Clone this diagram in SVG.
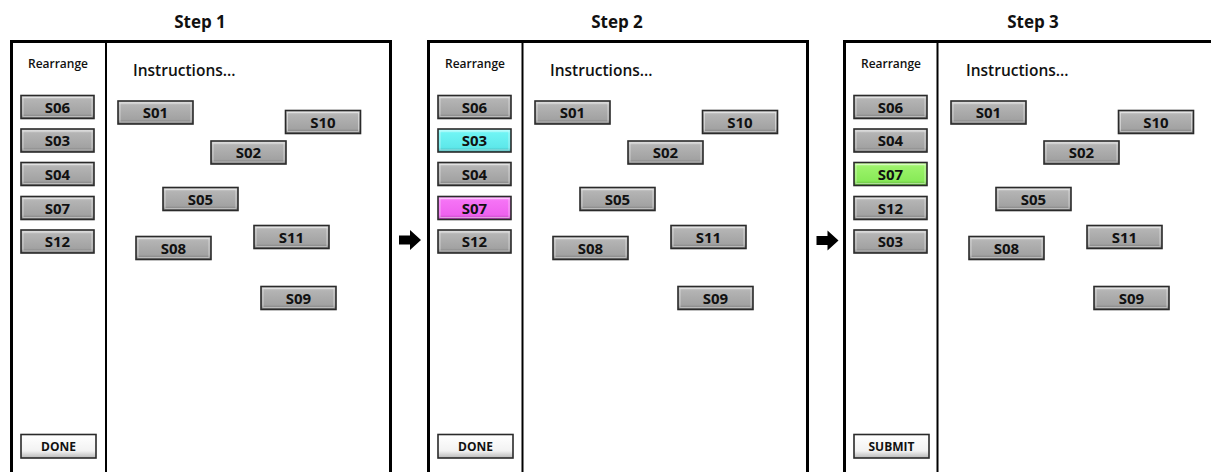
<svg xmlns="http://www.w3.org/2000/svg" width="1211" height="472" viewBox="0 0 1211 472">
  <style>
    text { font-family: "Open Sans", "Liberation Sans", sans-serif; fill: #111; text-anchor: middle; }
    .step { font-size: 17px; font-weight: 700; }
    .hdr { font-size: 12px; font-weight: 600; }
    .ins { font-size: 15.5px; font-weight: 600; text-anchor: start; }
    .lbl { font-size: 15px; font-weight: 700; }
    .small { font-size: 12px; font-weight: 700; }
    .frame { fill: none; stroke: #000; stroke-width: 3; }
    .div { stroke: #000; stroke-width: 2; }
    .btn { stroke: #2a2a2a; stroke-width: 1.6; }
    .bevel { fill: none; stroke: #fff; stroke-opacity: 0.45; stroke-width: 1; }
    .gray { fill: url(#gGray); }
    .cyan { fill: url(#gCyan); }
    .mag { fill: url(#gMag); }
    .grn { fill: url(#gGrn); }
    .wht { fill: url(#gWht); }
  </style>
  <defs>
    <linearGradient id="gGray" x1="0" y1="0" x2="0" y2="1">
      <stop offset="0" stop-color="#dcdcdc"/>
      <stop offset="0.18" stop-color="#b4b4b4"/>
      <stop offset="0.8" stop-color="#a2a2a2"/>
      <stop offset="1" stop-color="#6e6e6e"/>
    </linearGradient>
    <linearGradient id="gCyan" x1="0" y1="0" x2="0" y2="1">
      <stop offset="0" stop-color="#b8ffff"/>
      <stop offset="0.18" stop-color="#6ff4f4"/>
      <stop offset="0.8" stop-color="#5ee8ea"/>
      <stop offset="1" stop-color="#3aa8aa"/>
    </linearGradient>
    <linearGradient id="gMag" x1="0" y1="0" x2="0" y2="1">
      <stop offset="0" stop-color="#ffb8ff"/>
      <stop offset="0.18" stop-color="#f573f5"/>
      <stop offset="0.8" stop-color="#ee62ee"/>
      <stop offset="1" stop-color="#b040b0"/>
    </linearGradient>
    <linearGradient id="gGrn" x1="0" y1="0" x2="0" y2="1">
      <stop offset="0" stop-color="#d4ffb0"/>
      <stop offset="0.18" stop-color="#9cf36a"/>
      <stop offset="0.8" stop-color="#88ea58"/>
      <stop offset="1" stop-color="#5aa838"/>
    </linearGradient>
    <linearGradient id="gWht" x1="0" y1="0" x2="0" y2="1">
      <stop offset="0" stop-color="#ffffff"/>
      <stop offset="0.7" stop-color="#f2f2f2"/>
      <stop offset="1" stop-color="#b8b8b8"/>
    </linearGradient>
    <path id="arrow" d="M0,-4.5 H11 V-10 L22,0 L11,10 V4.5 H0 Z" fill="#000"/>
  </defs>

  <rect width="1211" height="472" fill="#fff"/>

  <!-- ===== Step 1 ===== -->
  <g id="step1">
    <text class="step" x="200" y="28">Step 1</text>
    <path class="frame" d="M11.5,475 V41.5 H390.5 V475"/>
    <line class="div" x1="106" y1="41" x2="106" y2="475"/>
    <text class="hdr" x="58" y="68">Rearrange</text>
    <text class="ins" x="133" y="76">Instructions...</text>
    <g id="s1-list-s06"><rect class="btn gray" x="21" y="95.5" width="73" height="23"/><rect class="bevel" x="23" y="97.5" width="69" height="19"/><text class="lbl" x="57.5" y="112.5">S06</text></g>
    <g id="s1-list-s03"><rect class="btn gray" x="21" y="129" width="73" height="23"/><rect class="bevel" x="23" y="131" width="69" height="19"/><text class="lbl" x="57.5" y="146">S03</text></g>
    <g id="s1-list-s04"><rect class="btn gray" x="21" y="162.5" width="73" height="23"/><rect class="bevel" x="23" y="164.5" width="69" height="19"/><text class="lbl" x="57.5" y="179.5">S04</text></g>
    <g id="s1-list-s07"><rect class="btn gray" x="21" y="196.5" width="73" height="23"/><rect class="bevel" x="23" y="198.5" width="69" height="19"/><text class="lbl" x="57.5" y="213.5">S07</text></g>
    <g id="s1-list-s12"><rect class="btn gray" x="21" y="230" width="73" height="23"/><rect class="bevel" x="23" y="232" width="69" height="19"/><text class="lbl" x="57.5" y="247">S12</text></g>
    <g id="s1-done"><rect class="btn wht" x="21" y="434.5" width="75" height="23.5"/><text class="small" x="58.5" y="451">DONE</text></g>
    <g id="s1-s01"><rect class="btn gray" x="118" y="101" width="75" height="23"/><rect class="bevel" x="120" y="103" width="71" height="19"/><text class="lbl" x="155.5" y="118">S01</text></g>
    <g id="s1-s10"><rect class="btn gray" x="285.5" y="110.5" width="75" height="23"/><rect class="bevel" x="287.5" y="112.5" width="71" height="19"/><text class="lbl" x="323" y="127.5">S10</text></g>
    <g id="s1-s02"><rect class="btn gray" x="211" y="141" width="75" height="23"/><rect class="bevel" x="213" y="143" width="71" height="19"/><text class="lbl" x="248.5" y="158">S02</text></g>
    <g id="s1-s05"><rect class="btn gray" x="163" y="187.5" width="75" height="23"/><rect class="bevel" x="165" y="189.5" width="71" height="19"/><text class="lbl" x="200.5" y="204.5">S05</text></g>
    <g id="s1-s08"><rect class="btn gray" x="136" y="236.5" width="75" height="23"/><rect class="bevel" x="138" y="238.5" width="71" height="19"/><text class="lbl" x="173.5" y="253.5">S08</text></g>
    <g id="s1-s11"><rect class="btn gray" x="254" y="225.5" width="75" height="23"/><rect class="bevel" x="256" y="227.5" width="71" height="19"/><text class="lbl" x="291.5" y="242.5">S11</text></g>
    <g id="s1-s09"><rect class="btn gray" x="261" y="286.5" width="75" height="23"/><rect class="bevel" x="263" y="288.5" width="71" height="19"/><text class="lbl" x="298.5" y="303.5">S09</text></g>
  </g>

  <!-- ===== Step 2 ===== -->
  <g id="step2" transform="translate(417,0)">
    <text class="step" x="200" y="28">Step 2</text>
    <path class="frame" d="M11.5,475 V41.5 H390.5 V475"/>
    <line class="div" x1="105.5" y1="41" x2="105.5" y2="475"/>
    <text class="hdr" x="58" y="68">Rearrange</text>
    <text class="ins" x="133" y="76">Instructions...</text>
    <g id="s2-list-s06"><rect class="btn gray" x="21" y="95.5" width="73" height="23"/><rect class="bevel" x="23" y="97.5" width="69" height="19"/><text class="lbl" x="57.5" y="112.5">S06</text></g>
    <g id="s2-list-s03"><rect class="btn cyan" x="21" y="129" width="73" height="23"/><rect class="bevel" x="23" y="131" width="69" height="19"/><text class="lbl" x="57.5" y="146">S03</text></g>
    <g id="s2-list-s04"><rect class="btn gray" x="21" y="162.5" width="73" height="23"/><rect class="bevel" x="23" y="164.5" width="69" height="19"/><text class="lbl" x="57.5" y="179.5">S04</text></g>
    <g id="s2-list-s07"><rect class="btn mag" x="21" y="196.5" width="73" height="23"/><rect class="bevel" x="23" y="198.5" width="69" height="19"/><text class="lbl" x="57.5" y="213.5">S07</text></g>
    <g id="s2-list-s12"><rect class="btn gray" x="21" y="230" width="73" height="23"/><rect class="bevel" x="23" y="232" width="69" height="19"/><text class="lbl" x="57.5" y="247">S12</text></g>
    <g id="s2-done"><rect class="btn wht" x="21" y="434.5" width="75" height="23.5"/><text class="small" x="58.5" y="451">DONE</text></g>
    <g id="s2-s01"><rect class="btn gray" x="118" y="101" width="75" height="23"/><rect class="bevel" x="120" y="103" width="71" height="19"/><text class="lbl" x="155.5" y="118">S01</text></g>
    <g id="s2-s10"><rect class="btn gray" x="285.5" y="110.5" width="75" height="23"/><rect class="bevel" x="287.5" y="112.5" width="71" height="19"/><text class="lbl" x="323" y="127.5">S10</text></g>
    <g id="s2-s02"><rect class="btn gray" x="211" y="141" width="75" height="23"/><rect class="bevel" x="213" y="143" width="71" height="19"/><text class="lbl" x="248.5" y="158">S02</text></g>
    <g id="s2-s05"><rect class="btn gray" x="163" y="187.5" width="75" height="23"/><rect class="bevel" x="165" y="189.5" width="71" height="19"/><text class="lbl" x="200.5" y="204.5">S05</text></g>
    <g id="s2-s08"><rect class="btn gray" x="136" y="236.5" width="75" height="23"/><rect class="bevel" x="138" y="238.5" width="71" height="19"/><text class="lbl" x="173.5" y="253.5">S08</text></g>
    <g id="s2-s11"><rect class="btn gray" x="254" y="225.5" width="75" height="23"/><rect class="bevel" x="256" y="227.5" width="71" height="19"/><text class="lbl" x="291.5" y="242.5">S11</text></g>
    <g id="s2-s09"><rect class="btn gray" x="261" y="286.5" width="75" height="23"/><rect class="bevel" x="263" y="288.5" width="71" height="19"/><text class="lbl" x="298.5" y="303.5">S09</text></g>
  </g>

  <!-- ===== Step 3 ===== -->
  <g id="step3" transform="translate(833,0)">
    <text class="step" x="200" y="28">Step 3</text>
    <path class="frame" d="M11.5,475 V41.5 H390.5 V475"/>
    <line class="div" x1="104.5" y1="41" x2="104.5" y2="475"/>
    <text class="hdr" x="58" y="68">Rearrange</text>
    <text class="ins" x="133" y="76">Instructions...</text>
    <g id="s3-list-s06"><rect class="btn gray" x="21" y="95.5" width="73" height="23"/><rect class="bevel" x="23" y="97.5" width="69" height="19"/><text class="lbl" x="57.5" y="112.5">S06</text></g>
    <g id="s3-list-s04"><rect class="btn gray" x="21" y="129" width="73" height="23"/><rect class="bevel" x="23" y="131" width="69" height="19"/><text class="lbl" x="57.5" y="146">S04</text></g>
    <g id="s3-list-s07"><rect class="btn grn" x="21" y="162.5" width="73" height="23"/><rect class="bevel" x="23" y="164.5" width="69" height="19"/><text class="lbl" x="57.5" y="179.5">S07</text></g>
    <g id="s3-list-s12"><rect class="btn gray" x="21" y="196.5" width="73" height="23"/><rect class="bevel" x="23" y="198.5" width="69" height="19"/><text class="lbl" x="57.5" y="213.5">S12</text></g>
    <g id="s3-list-s03"><rect class="btn gray" x="21" y="230" width="73" height="23"/><rect class="bevel" x="23" y="232" width="69" height="19"/><text class="lbl" x="57.5" y="247">S03</text></g>
    <g id="s3-submit"><rect class="btn wht" x="21" y="434.5" width="75" height="23.5"/><text class="small" x="58.5" y="451">SUBMIT</text></g>
    <g id="s3-s01"><rect class="btn gray" x="118" y="101" width="75" height="23"/><rect class="bevel" x="120" y="103" width="71" height="19"/><text class="lbl" x="155.5" y="118">S01</text></g>
    <g id="s3-s10"><rect class="btn gray" x="285.5" y="110.5" width="75" height="23"/><rect class="bevel" x="287.5" y="112.5" width="71" height="19"/><text class="lbl" x="323" y="127.5">S10</text></g>
    <g id="s3-s02"><rect class="btn gray" x="211" y="141" width="75" height="23"/><rect class="bevel" x="213" y="143" width="71" height="19"/><text class="lbl" x="248.5" y="158">S02</text></g>
    <g id="s3-s05"><rect class="btn gray" x="163" y="187.5" width="75" height="23"/><rect class="bevel" x="165" y="189.5" width="71" height="19"/><text class="lbl" x="200.5" y="204.5">S05</text></g>
    <g id="s3-s08"><rect class="btn gray" x="136" y="236.5" width="75" height="23"/><rect class="bevel" x="138" y="238.5" width="71" height="19"/><text class="lbl" x="173.5" y="253.5">S08</text></g>
    <g id="s3-s11"><rect class="btn gray" x="254" y="225.5" width="75" height="23"/><rect class="bevel" x="256" y="227.5" width="71" height="19"/><text class="lbl" x="291.5" y="242.5">S11</text></g>
    <g id="s3-s09"><rect class="btn gray" x="261" y="286.5" width="75" height="23"/><rect class="bevel" x="263" y="288.5" width="71" height="19"/><text class="lbl" x="298.5" y="303.5">S09</text></g>
  </g>

  <!-- transitions between steps -->
  <g id="connectors">
    <use href="#arrow" x="399" y="240"/>
    <use href="#arrow" x="816.5" y="240.5"/>
  </g>
</svg>
